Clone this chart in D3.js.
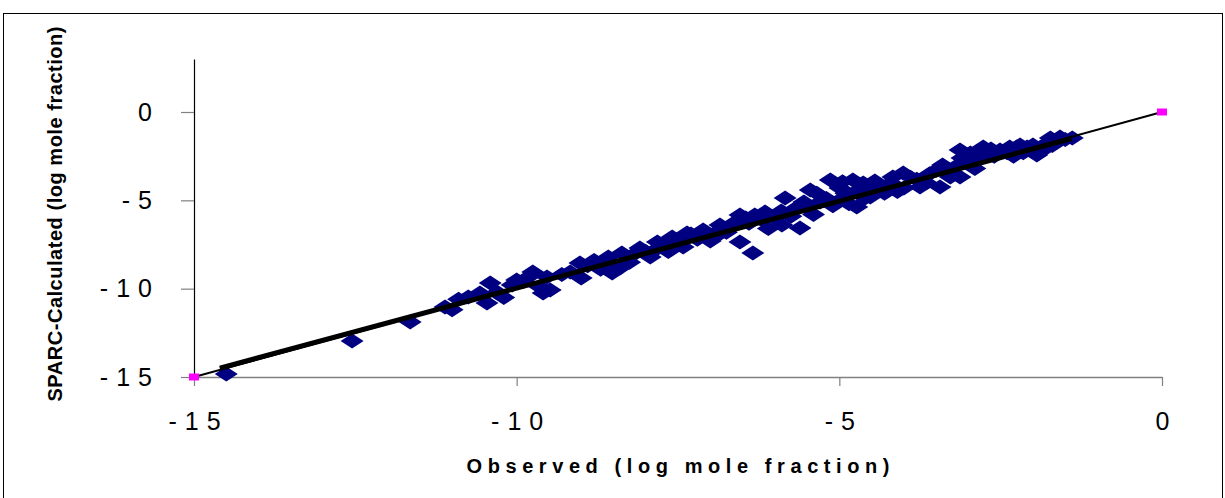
<!DOCTYPE html>
<html><head><meta charset="utf-8">
<script src="https://cdn.jsdelivr.net/npm/d3@7"></script>
<style>body{margin:0;background:#fff}svg{display:block}</style>
</head><body>
<svg id="chart" width="1225" height="498"></svg>
<script>
// Observed vs SPARC-calculated values (log mole fraction)
const observed = [
 -14.5,-12.55,-11.65,-11.11,-11.0,-10.75,-10.57,-10.41,-10.46,-10.07,-10.0,-9.75,-9.64,-9.59,-9.53,-9.48,
 -9.17,-9.02,-8.58,-8.52,-8.37,-8.40,-8.09,-7.93,-7.82,-7.59,-7.42,-7.36,-7.11,-7.05,-6.85,-6.54,-6.31,
 -6.15,-6.54,-6.34,-5.84,-5.89,-5.61,-5.45,-5.30,-5.14,-4.99,-4.79,-4.73,-4.60,-4.63,-4.52,-4.17,-4.01,
 -3.75,-3.44,-3.28,-3.13,-2.97,-2.77,-2.51,-2.25,-2.09,-3.13,-2.36,-2.20,-2.0,-1.89,-1.73,-1.58,-1.39,-1.94,
 -10.9,-10.3,-9.9,-9.3,-8.9,-8.7,-8.2,-7.7,-7.5,-7.2,-6.95,-6.7,-6.6,-6.4,-6.2,-6.0,-5.9,-5.7,-5.5,-5.4,
 -5.2,-5.1,-4.9,-4.85,-4.7,-4.4,-4.3,-4.2,-4.0,-3.9,-3.8,-3.6,-3.5,-3.4,-3.3,-3.2,-3.0,-2.9,-2.8,-2.7,
 -2.6,-2.4,-2.3,-1.8,-1.6,-1.5,-9.0,-8.0,-7.0,-6.1,-5.0,-4.5,
 -8.8,-8.6,-8.25,-7.85,-7.65,-7.3,-6.9,-6.75,-6.45,-5.75,-5.55,-5.35,-4.95,-4.45,-4.1,-3.65,-3.1,-2.65,
 -2.15,-1.7,-10.2,-9.8
];
const calculated = [
 -14.83,-12.96,-11.89,-11.04,-11.2,-10.47,-10.25,-9.68,-10.81,-9.79,-9.51,-9.06,-9.91,-10.25,-9.34,-10.08,
 -9.06,-8.55,-8.21,-9.11,-7.98,-8.83,-7.70,-8.21,-7.36,-7.08,-7.64,-6.85,-6.68,-6.85,-6.40,-5.83,-5.83,
 -5.66,-7.36,-7.98,-4.87,-6.40,-6.57,-4.42,-5.10,-3.85,-4.30,-3.85,-5.38,-4.87,-4.02,-4.81,-3.68,-3.45,
 -4.25,-4.25,-3.68,-2.15,-2.32,-1.98,-2.15,-1.98,-1.98,-3.68,-1.98,-1.87,-1.87,-2.26,-1.47,-1.42,-1.47,-2.43,
 -10.6,-10.2,-9.6,-9.2,-8.7,-8.9,-8.1,-7.4,-7.3,-7.2,-6.9,-6.5,-6.2,-6.3,-6.1,-6.0,-5.6,-5.5,-5.4,-5.8,
 -4.9,-5.3,-4.6,-5.2,-4.4,-4.2,-4.6,-4.0,-4.3,-3.7,-3.8,-3.5,-3.3,-3.0,-3.3,-3.1,-2.9,-3.2,-2.6,-2.4,
 -2.5,-2.3,-2.5,-1.8,-1.6,-1.55,-9.4,-7.9,-7.3,-6.6,-5.0,-4.5,
 -8.4,-8.6,-8.5,-7.8,-7.9,-6.9,-7.0,-6.8,-6.0,-5.9,-5.1,-4.6,-3.95,-3.9,-4.5,-4.0,-2.6,-2.1,
 -2.3,-1.9,-10.5,-9.3
];
// identity reference series (pink markers)
const identityX = [-15, 0];
const identityY = [-15, 0];
// fitted trend line
const fitX = [-14.6, -1.4];
const fitY = [-14.5, -1.5];
const xTicks = [-15, -10, -5, 0];
const yTicks = [0, -5, -10, -15];
const xTitle = "Observed (log mole fraction)";
const yTitle = "SPARC-Calculated (log mole fraction)";

const svg = d3.select("#chart");
const FONT = "Arial, 'Liberation Sans', sans-serif";

svg.append("rect").attr("x", 3.5).attr("y", 13.5).attr("width", 1219).attr("height", 500)
  .attr("fill", "#fff").attr("stroke", "#000").attr("stroke-width", 1);

const x = d3.scaleLinear().domain([-15, 0]).range([194, 1162]);
const y = d3.scaleLinear().domain([-15, 3]).range([377, 59]);

// X axis
const xAxis = svg.append("g").attr("transform", "translate(0,377)")
  .call(d3.axisBottom(x).tickValues(xTicks).tickFormat(d => String(d)).tickSize(9).tickSizeOuter(0).tickPadding(26));
xAxis.select(".domain").attr("stroke", "#808080").attr("stroke-width", 1.5);
xAxis.selectAll(".tick line").attr("stroke", "#808080").attr("stroke-width", 1.2);
xAxis.selectAll(".tick text").attr("font-family", FONT).attr("font-size", 25).attr("fill", "#000")
  .style("letter-spacing", "8px").attr("dx", 4);

// Y axis
const yAxis = svg.append("g").attr("transform", "translate(194,0)")
  .call(d3.axisLeft(y).tickValues(yTicks).tickFormat(d => String(d)).tickSize(13).tickSizeOuter(0).tickPadding(29));
yAxis.select(".domain").attr("stroke", "#000").attr("stroke-width", 1.2);
yAxis.selectAll(".tick line").attr("stroke", "#808080").attr("stroke-width", 1.2);
yAxis.selectAll(".tick text").attr("font-family", FONT).attr("font-size", 25).attr("fill", "#000")
  .style("letter-spacing", "8px").attr("dx", 8);

// scatter diamonds
const pts = observed.map((v, i) => ({x: v, y: calculated[i]}));
svg.append("g").selectAll("path").data(pts).join("path")
  .attr("d", "M0,-7.5L11.5,0L0,7.5L-11.5,0Z")
  .attr("transform", d => `translate(${x(d.x)},${y(d.y)})`)
  .attr("fill", "#000080");

// fitted line
const line = d3.line().x(d => x(d[0])).y(d => y(d[1]));
svg.append("path").attr("d", line(fitX.map((v, i) => [v, fitY[i]])))
  .attr("stroke", "#000").attr("stroke-width", 5).attr("fill", "none");

// identity line + pink markers
svg.append("path").attr("d", line(identityX.map((v, i) => [v, identityY[i]])))
  .attr("stroke", "#000").attr("stroke-width", 2).attr("fill", "none");
svg.append("g").selectAll("rect").data(identityX.map((v, i) => [v, identityY[i]])).join("rect")
  .attr("x", d => x(d[0]) - 5).attr("y", d => y(d[1]) - 3.5).attr("width", 10).attr("height", 7)
  .attr("fill", "#FF00FF");

// titles
svg.append("text").attr("x", 678).attr("y", 473).attr("text-anchor", "middle")
  .attr("font-family", FONT).attr("font-weight", "bold").attr("font-size", 20)
  .attr("textLength", 423).attr("lengthAdjust", "spacing").text(xTitle);
svg.append("text").attr("transform", "translate(62,214) rotate(-90)").attr("text-anchor", "middle")
  .attr("font-family", FONT).attr("font-weight", "bold").attr("font-size", 20)
  .attr("textLength", 375).attr("lengthAdjust", "spacing").text(yTitle);
</script>
</body></html>
